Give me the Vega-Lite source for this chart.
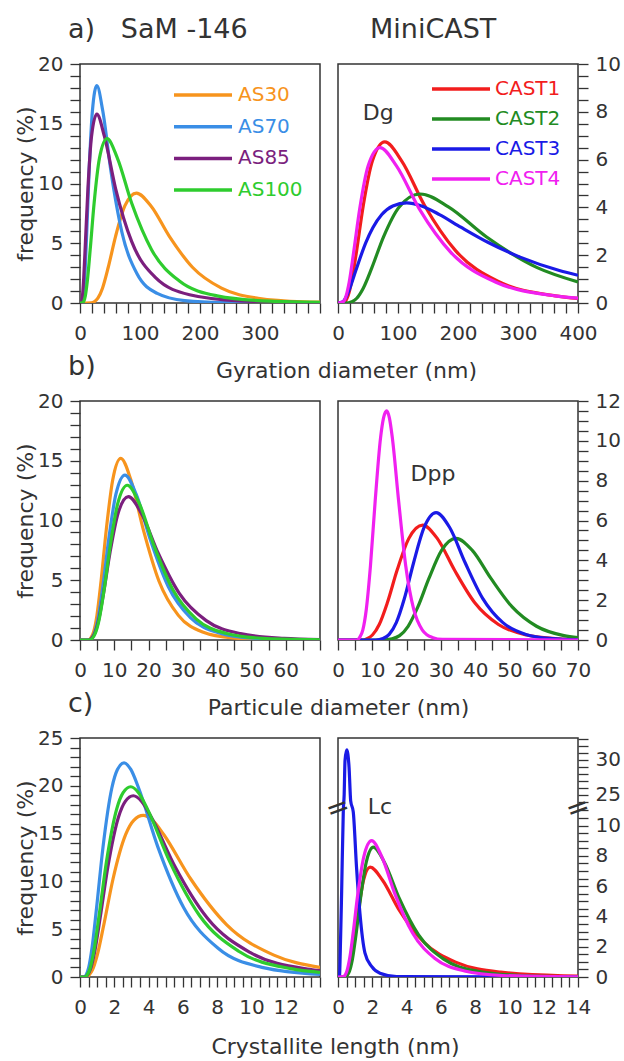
{
"$schema":"https://vega.github.io/schema/vega-lite/v6.json",
"background":"white",
"padding":{"left":13,"top":15,"right":0,"bottom":0},
"config":{
 "font":"DejaVu Sans",
 "view":{"stroke":"#333","strokeWidth":1.5},
 "axis":{"labelFont":"DejaVu Sans","labelFontSize":20,"labelColor":"#333","titleFont":"DejaVu Sans","titleFontSize":22,"titleFontWeight":"normal","titleColor":"#333","tickColor":"#333","tickWidth":1.3,"tickSize":10,"domain":false,"grid":false,"labelOverlap":false,"labelFlush":false,"labelBound":false,"format":"d"},
 "axisX":{"labelPadding":10},
 "axisY":{"labelPadding":7,"titlePadding":0},
 "title":{"font":"DejaVu Sans","fontSize":27,"fontWeight":"normal","color":"#333","anchor":"start","frame":"group","baseline":"alphabetic","offset":10},
 "legend":{"labelFont":"DejaVu Sans","labelFontSize":20,"title":null}
},
"datasets":{
"a1":[
{"s":"AS30","x":0,"y":0},{"s":"AS30","x":18.8,"y":0.02},{"s":"AS30","x":23.6,"y":0.1},{"s":"AS30","x":29.8,"y":0.4},{"s":"AS30","x":37.5,"y":1.24},{"s":"AS30","x":47.1,"y":2.99},{"s":"AS30","x":59.3,"y":5.58},{"s":"AS30","x":74.7,"y":8.12},{"s":"AS30","x":94,"y":9.2},{"s":"AS30","x":118.3,"y":8.12},{"s":"AS30","x":148.9,"y":5.58},{"s":"AS30","x":187.4,"y":2.99},{"s":"AS30","x":235.8,"y":1.24},{"s":"AS30","x":296.9,"y":0.4},{"s":"AS30","x":373.7,"y":0.1},{"s":"AS30","x":400,"y":0.07},
{"s":"AS70","x":0,"y":0},{"s":"AS70","x":3.31,"y":0.04},{"s":"AS70","x":4.49,"y":0.2},{"s":"AS70","x":6.09,"y":0.8},{"s":"AS70","x":8.27,"y":2.46},{"s":"AS70","x":11.21,"y":5.91},{"s":"AS70","x":15.21,"y":11.04},{"s":"AS70","x":20.64,"y":16.06},{"s":"AS70","x":28,"y":18.2},{"s":"AS70","x":37.98,"y":16.06},{"s":"AS70","x":51.53,"y":11.04},{"s":"AS70","x":69.9,"y":5.91},{"s":"AS70","x":94.8,"y":2.46},{"s":"AS70","x":128.7,"y":0.8},{"s":"AS70","x":174.5,"y":0.2},{"s":"AS70","x":236.8,"y":0.04},{"s":"AS70","x":400,"y":0},
{"s":"AS85","x":0,"y":0},{"s":"AS85","x":2.03,"y":0.03},{"s":"AS85","x":2.95,"y":0.18},{"s":"AS85","x":4.29,"y":0.69},{"s":"AS85","x":6.25,"y":2.14},{"s":"AS85","x":9.09,"y":5.13},{"s":"AS85","x":13.23,"y":9.58},{"s":"AS85","x":19.24,"y":13.94},{"s":"AS85","x":28,"y":15.8},{"s":"AS85","x":40.7,"y":13.94},{"s":"AS85","x":59.3,"y":9.58},{"s":"AS85","x":86.2,"y":5.13},{"s":"AS85","x":125.5,"y":2.14},{"s":"AS85","x":182.6,"y":0.69},{"s":"AS85","x":265.7,"y":0.18},{"s":"AS85","x":386,"y":0.03},{"s":"AS85","x":400,"y":0.02},
{"s":"AS100","x":0,"y":0},{"s":"AS100","x":4.63,"y":0.03},{"s":"AS100","x":6.4,"y":0.15},{"s":"AS100","x":8.86,"y":0.6},{"s":"AS100","x":12.26,"y":1.86},{"s":"AS100","x":16.97,"y":4.46},{"s":"AS100","x":23.49,"y":8.34},{"s":"AS100","x":32.5,"y":12.13},{"s":"AS100","x":45,"y":13.75},{"s":"AS100","x":62.3,"y":12.13},{"s":"AS100","x":86.2,"y":8.34},{"s":"AS100","x":119.3,"y":4.46},{"s":"AS100","x":165.1,"y":1.86},{"s":"AS100","x":228.5,"y":0.6},{"s":"AS100","x":316.3,"y":0.15},{"s":"AS100","x":400,"y":0.05}
],
"a2":[
{"s":"CAST1","x":0,"y":0},{"s":"CAST1","x":9.09,"y":0.015},{"s":"CAST1","x":12.36,"y":0.075},{"s":"CAST1","x":16.8,"y":0.3},{"s":"CAST1","x":22.84,"y":0.91},{"s":"CAST1","x":31.05,"y":2.19},{"s":"CAST1","x":42.2,"y":4.09},{"s":"CAST1","x":57.4,"y":5.95},{"s":"CAST1","x":78,"y":6.74},{"s":"CAST1","x":106,"y":5.95},{"s":"CAST1","x":144.1,"y":4.09},{"s":"CAST1","x":195.9,"y":2.19},{"s":"CAST1","x":266.4,"y":0.91},{"s":"CAST1","x":362.1,"y":0.3},{"s":"CAST1","x":400,"y":0.19},
{"s":"CAST2","x":0,"y":0},{"s":"CAST2","x":17.4,"y":0.01},{"s":"CAST2","x":23.3,"y":0.05},{"s":"CAST2","x":31.3,"y":0.2},{"s":"CAST2","x":42.1,"y":0.62},{"s":"CAST2","x":56.5,"y":1.48},{"s":"CAST2","x":75.9,"y":2.77},{"s":"CAST2","x":102,"y":4.02},{"s":"CAST2","x":137,"y":4.56},{"s":"CAST2","x":184,"y":4.02},{"s":"CAST2","x":247.1,"y":2.77},{"s":"CAST2","x":332,"y":1.48},{"s":"CAST2","x":400,"y":0.88},
{"s":"CAST3","x":0,"y":0},{"s":"CAST3","x":7.69,"y":0.047},{"s":"CAST3","x":12.07,"y":0.184},{"s":"CAST3","x":18.93,"y":0.567},{"s":"CAST3","x":29.69,"y":1.36},{"s":"CAST3","x":46.55,"y":2.54},{"s":"CAST3","x":58.3,"y":3.16},{"s":"CAST3","x":73,"y":3.7},{"s":"CAST3","x":91.4,"y":4.06},{"s":"CAST3","x":114.5,"y":4.19},{"s":"CAST3","x":139.2,"y":4.06},{"s":"CAST3","x":169.1,"y":3.7},{"s":"CAST3","x":205.5,"y":3.16},{"s":"CAST3","x":249.7,"y":2.54},{"s":"CAST3","x":303.6,"y":1.92},{"s":"CAST3","x":368.9,"y":1.36},{"s":"CAST3","x":400,"y":1.16},
{"s":"CAST4","x":0,"y":0},{"s":"CAST4","x":9.66,"y":0.07},{"s":"CAST4","x":13.44,"y":0.29},{"s":"CAST4","x":18.69,"y":0.88},{"s":"CAST4","x":26,"y":2.11},{"s":"CAST4","x":36.2,"y":3.94},{"s":"CAST4","x":50.3,"y":5.74},{"s":"CAST4","x":70,"y":6.5},{"s":"CAST4","x":97.4,"y":5.74},{"s":"CAST4","x":135.5,"y":3.94},{"s":"CAST4","x":188.4,"y":2.11},{"s":"CAST4","x":262.2,"y":0.88},{"s":"CAST4","x":364.7,"y":0.29},{"s":"CAST4","x":400,"y":0.2}
],
"b1":[
{"s":"AS30","x":0,"y":0},{"s":"AS30","x":2.5,"y":0},{"s":"AS30","x":3.18,"y":0.17},{"s":"AS30","x":3.96,"y":0.67},{"s":"AS30","x":4.94,"y":2.06},{"s":"AS30","x":6.15,"y":4.94},{"s":"AS30","x":7.66,"y":9.22},{"s":"AS30","x":9.55,"y":13.41},{"s":"AS30","x":11.9,"y":15.2},{"s":"AS30","x":14.83,"y":13.41},{"s":"AS30","x":18.48,"y":9.22},{"s":"AS30","x":23.02,"y":4.94},{"s":"AS30","x":28.69,"y":2.06},{"s":"AS30","x":35.75,"y":0.67},{"s":"AS30","x":44.55,"y":0.17},{"s":"AS30","x":55.5,"y":0.03},{"s":"AS30","x":70,"y":0},
{"s":"AS70","x":0,"y":0},{"s":"AS70","x":2.5,"y":0},{"s":"AS70","x":3.4,"y":0.15},{"s":"AS70","x":4.25,"y":0.61},{"s":"AS70","x":5.33,"y":1.87},{"s":"AS70","x":6.67,"y":4.48},{"s":"AS70","x":8.35,"y":8.37},{"s":"AS70","x":10.46,"y":12.18},{"s":"AS70","x":13.1,"y":13.8},{"s":"AS70","x":16.4,"y":12.18},{"s":"AS70","x":20.54,"y":8.37},{"s":"AS70","x":25.73,"y":4.48},{"s":"AS70","x":32.2,"y":1.87},{"s":"AS70","x":40.35,"y":0.61},{"s":"AS70","x":50.5,"y":0.15},{"s":"AS70","x":63.3,"y":0.03},{"s":"AS70","x":70,"y":0.01},
{"s":"AS85","x":0,"y":0},{"s":"AS85","x":2.5,"y":0},{"s":"AS85","x":3.34,"y":0.13},{"s":"AS85","x":4.25,"y":0.53},{"s":"AS85","x":5.4,"y":1.62},{"s":"AS85","x":6.86,"y":3.9},{"s":"AS85","x":8.73,"y":7.28},{"s":"AS85","x":11.09,"y":10.59},{"s":"AS85","x":14.1,"y":12},{"s":"AS85","x":17.92,"y":10.59},{"s":"AS85","x":22.79,"y":7.28},{"s":"AS85","x":28.96,"y":3.9},{"s":"AS85","x":36.82,"y":1.62},{"s":"AS85","x":46.8,"y":0.53},{"s":"AS85","x":59.5,"y":0.13},{"s":"AS85","x":70,"y":0.03},
{"s":"AS100","x":0,"y":0},{"s":"AS100","x":2.5,"y":0},{"s":"AS100","x":3.58,"y":0.14},{"s":"AS100","x":4.48,"y":0.57},{"s":"AS100","x":5.61,"y":1.75},{"s":"AS100","x":7.03,"y":4.2},{"s":"AS100","x":8.8,"y":7.85},{"s":"AS100","x":11.02,"y":11.43},{"s":"AS100","x":13.8,"y":12.95},{"s":"AS100","x":17.28,"y":11.43},{"s":"AS100","x":21.64,"y":7.85},{"s":"AS100","x":27.1,"y":4.2},{"s":"AS100","x":33.93,"y":1.75},{"s":"AS100","x":42.5,"y":0.57},{"s":"AS100","x":53.2,"y":0.14},{"s":"AS100","x":66.7,"y":0.03},{"s":"AS100","x":70,"y":0.02}
],
"b2":[
{"s":"CAST1","x":0,"y":0},{"s":"CAST1","x":7.5,"y":0},{"s":"CAST1","x":8.39,"y":0.06},{"s":"CAST1","x":10.04,"y":0.25},{"s":"CAST1","x":12.03,"y":0.78},{"s":"CAST1","x":14.39,"y":1.87},{"s":"CAST1","x":17.23,"y":3.5},{"s":"CAST1","x":20.63,"y":5.09},{"s":"CAST1","x":24.7,"y":5.77},{"s":"CAST1","x":28.99,"y":5.09},{"s":"CAST1","x":34.01,"y":3.5},{"s":"CAST1","x":39.9,"y":1.87},{"s":"CAST1","x":46.8,"y":0.78},{"s":"CAST1","x":55,"y":0.25},{"s":"CAST1","x":64.5,"y":0.06},{"s":"CAST1","x":70,"y":0.02},
{"s":"CAST2","x":0,"y":0},{"s":"CAST2","x":13,"y":0},{"s":"CAST2","x":15.77,"y":0.06},{"s":"CAST2","x":17.96,"y":0.22},{"s":"CAST2","x":20.45,"y":0.69},{"s":"CAST2","x":23.29,"y":1.66},{"s":"CAST2","x":26.52,"y":3.09},{"s":"CAST2","x":30.21,"y":4.5},{"s":"CAST2","x":34.4,"y":5.1},{"s":"CAST2","x":39.17,"y":4.5},{"s":"CAST2","x":44.61,"y":3.09},{"s":"CAST2","x":50.8,"y":1.66},{"s":"CAST2","x":57.9,"y":0.69},{"s":"CAST2","x":65.9,"y":0.22},{"s":"CAST2","x":70,"y":0.12},
{"s":"CAST3","x":0,"y":0},{"s":"CAST3","x":11,"y":0},{"s":"CAST3","x":13.11,"y":0.07},{"s":"CAST3","x":14.93,"y":0.28},{"s":"CAST3","x":17,"y":0.87},{"s":"CAST3","x":19.36,"y":2.08},{"s":"CAST3","x":22.05,"y":3.88},{"s":"CAST3","x":25.11,"y":5.65},{"s":"CAST3","x":28.6,"y":6.4},{"s":"CAST3","x":32.57,"y":5.65},{"s":"CAST3","x":37.09,"y":3.88},{"s":"CAST3","x":42.24,"y":2.08},{"s":"CAST3","x":48.1,"y":0.87},{"s":"CAST3","x":54.8,"y":0.28},{"s":"CAST3","x":62.4,"y":0.07},{"s":"CAST3","x":70,"y":0.01},
{"s":"CAST4","x":0,"y":0},{"s":"CAST4","x":5.5,"y":0},{"s":"CAST4","x":6.32,"y":0.13},{"s":"CAST4","x":7.23,"y":0.5},{"s":"CAST4","x":8.27,"y":1.56},{"s":"CAST4","x":9.47,"y":3.73},{"s":"CAST4","x":10.84,"y":6.97},{"s":"CAST4","x":12.41,"y":10.15},{"s":"CAST4","x":13.27,"y":11.14},{"s":"CAST4","x":14.2,"y":11.5},{"s":"CAST4","x":15,"y":11.14},{"s":"CAST4","x":15.85,"y":10.15},{"s":"CAST4","x":17.69,"y":6.97},{"s":"CAST4","x":19.75,"y":3.73},{"s":"CAST4","x":22.05,"y":1.56},{"s":"CAST4","x":24.61,"y":0.5},{"s":"CAST4","x":27.48,"y":0.13},{"s":"CAST4","x":30.5,"y":0.03},{"s":"CAST4","x":70,"y":0}
],
"c1":[
{"s":"AS30","x":0,"y":0},{"s":"AS30","x":0.4,"y":0},{"s":"AS30","x":0.525,"y":0.19},{"s":"AS30","x":0.727,"y":0.74},{"s":"AS30","x":1.006,"y":2.29},{"s":"AS30","x":1.392,"y":5.49},{"s":"AS30","x":1.926,"y":10.25},{"s":"AS30","x":2.666,"y":14.91},{"s":"AS30","x":3.136,"y":16.38},{"s":"AS30","x":3.69,"y":16.9},{"s":"AS30","x":4.245,"y":16.38},{"s":"AS30","x":4.882,"y":14.91},{"s":"AS30","x":6.46,"y":10.25},{"s":"AS30","x":8.547,"y":5.49},{"s":"AS30","x":11.31,"y":2.29},{"s":"AS30","x":14,"y":1},
{"s":"AS70","x":0,"y":0},{"s":"AS70","x":0.25,"y":0},{"s":"AS70","x":0.366,"y":0.25},{"s":"AS70","x":0.506,"y":0.98},{"s":"AS70","x":0.7,"y":3.03},{"s":"AS70","x":0.969,"y":7.27},{"s":"AS70","x":1.342,"y":13.59},{"s":"AS70","x":1.857,"y":19.77},{"s":"AS70","x":2.184,"y":21.71},{"s":"AS70","x":2.57,"y":22.4},{"s":"AS70","x":2.964,"y":21.71},{"s":"AS70","x":3.418,"y":19.77},{"s":"AS70","x":4.545,"y":13.59},{"s":"AS70","x":6.043,"y":7.27},{"s":"AS70","x":8.036,"y":3.03},{"s":"AS70","x":10.69,"y":0.98},{"s":"AS70","x":14,"y":0.27},
{"s":"AS85","x":0,"y":0},{"s":"AS85","x":0.3,"y":0},{"s":"AS85","x":0.442,"y":0.21},{"s":"AS85","x":0.612,"y":0.83},{"s":"AS85","x":0.848,"y":2.57},{"s":"AS85","x":1.173,"y":6.16},{"s":"AS85","x":1.624,"y":11.5},{"s":"AS85","x":2.247,"y":16.73},{"s":"AS85","x":2.643,"y":18.37},{"s":"AS85","x":3.11,"y":18.96},{"s":"AS85","x":3.595,"y":18.37},{"s":"AS85","x":4.156,"y":16.73},{"s":"AS85","x":5.555,"y":11.5},{"s":"AS85","x":7.424,"y":6.16},{"s":"AS85","x":9.92,"y":2.57},{"s":"AS85","x":13.26,"y":0.83},{"s":"AS85","x":14,"y":0.66},
{"s":"AS100","x":0,"y":0},{"s":"AS100","x":0.3,"y":0},{"s":"AS100","x":0.421,"y":0.22},{"s":"AS100","x":0.583,"y":0.87},{"s":"AS100","x":0.807,"y":2.69},{"s":"AS100","x":1.117,"y":6.46},{"s":"AS100","x":1.545,"y":12.07},{"s":"AS100","x":2.139,"y":17.56},{"s":"AS100","x":2.516,"y":19.28},{"s":"AS100","x":2.96,"y":19.9},{"s":"AS100","x":3.414,"y":19.28},{"s":"AS100","x":3.936,"y":17.56},{"s":"AS100","x":5.234,"y":12.07},{"s":"AS100","x":6.96,"y":6.46},{"s":"AS100","x":9.256,"y":2.69},{"s":"AS100","x":12.31,"y":0.87},{"s":"AS100","x":14,"y":0.48}
],
"c2":[
{"s":"CAST1","x":0,"y":0},{"s":"CAST1","x":0.4,"y":0},{"s":"CAST1","x":0.485,"y":0.08},{"s":"CAST1","x":0.607,"y":0.32},{"s":"CAST1","x":0.76,"y":0.98},{"s":"CAST1","x":0.952,"y":2.36},{"s":"CAST1","x":1.193,"y":4.4},{"s":"CAST1","x":1.493,"y":6.41},{"s":"CAST1","x":1.87,"y":7.26},{"s":"CAST1","x":2.588,"y":6.41},{"s":"CAST1","x":3.582,"y":4.4},{"s":"CAST1","x":4.957,"y":2.36},{"s":"CAST1","x":6.861,"y":0.98},{"s":"CAST1","x":9.5,"y":0.32},{"s":"CAST1","x":13.14,"y":0.08},{"s":"CAST1","x":14,"y":0.06},
{"s":"CAST2","x":0,"y":0},{"s":"CAST2","x":0.45,"y":0},{"s":"CAST2","x":0.534,"y":0.1},{"s":"CAST2","x":0.669,"y":0.38},{"s":"CAST2","x":0.838,"y":1.16},{"s":"CAST2","x":1.049,"y":2.78},{"s":"CAST2","x":1.314,"y":5.2},{"s":"CAST2","x":1.645,"y":7.56},{"s":"CAST2","x":2.06,"y":8.57},{"s":"CAST2","x":2.712,"y":7.56},{"s":"CAST2","x":3.57,"y":5.2},{"s":"CAST2","x":4.7,"y":2.78},{"s":"CAST2","x":6.19,"y":1.16},{"s":"CAST2","x":8.15,"y":0.38},{"s":"CAST2","x":10.73,"y":0.1},{"s":"CAST2","x":14,"y":0.02},
{"s":"CAST3","x":0,"y":0},{"s":"CAST3","x":0.08,"y":0},{"s":"CAST3","x":0.15,"y":2.5},{"s":"CAST3","x":0.21,"y":5.5},{"s":"CAST3","x":0.31,"y":11},{"s":"CAST3","x":0.36,"y":25},{"s":"CAST3","x":0.41,"y":29.9},{"s":"CAST3","x":0.51,"y":31.4},{"s":"CAST3","x":0.645,"y":28.9},{"s":"CAST3","x":0.74,"y":24.1},{"s":"CAST3","x":0.89,"y":10.9},{"s":"CAST3","x":1.08,"y":7.26},{"s":"CAST3","x":1.28,"y":4.2},{"s":"CAST3","x":1.57,"y":1.6},{"s":"CAST3","x":1.96,"y":0.7},{"s":"CAST3","x":2.45,"y":0.25},{"s":"CAST3","x":3.42,"y":0.03},{"s":"CAST3","x":14,"y":0},
{"s":"CAST4","x":0,"y":0},{"s":"CAST4","x":0.3,"y":0.02},{"s":"CAST4","x":0.4,"y":0.1},{"s":"CAST4","x":0.521,"y":0.4},{"s":"CAST4","x":0.679,"y":1.22},{"s":"CAST4","x":0.885,"y":2.92},{"s":"CAST4","x":1.154,"y":5.46},{"s":"CAST4","x":1.504,"y":7.94},{"s":"CAST4","x":1.96,"y":9},{"s":"CAST4","x":2.555,"y":7.94},{"s":"CAST4","x":3.33,"y":5.46},{"s":"CAST4","x":4.34,"y":2.92},{"s":"CAST4","x":5.657,"y":1.22},{"s":"CAST4","x":7.374,"y":0.4},{"s":"CAST4","x":9.61,"y":0.1},{"s":"CAST4","x":12.52,"y":0.02},{"s":"CAST4","x":14,"y":0.01}
]
},
"columns":2,
"spacing":{"row":98,"column":18},
"bounds":"flush",
"resolve":{"scale":{"x":"independent","y":"independent","color":"independent"},"legend":{"color":"independent"}},
"concat":[
{
 "width":240,"height":239,
 "title":{"text":"a)\u00a0\u00a0\u00a0SaM -146","dx":-12},
 "data":{"name":"a1"},
 "mark":{"type":"line","interpolate":"monotone","strokeWidth":3.2,"clip":true},
 "encoding":{
  "x":{"field":"x","type":"quantitative","scale":{"domain":[0,400],"nice":false,"zero":false},
   "axis":{"values":[0,20,40,60,80,100,120,140,160,180,200,220,240,260,280,300,320,340,360,380,400],"labelExpr":"datum.value % 100 === 0 && datum.value < 400 ? datum.label : ''","title":"Gyration diameter (nm)","titleX":266,"titleY":74,"titleBaseline":"alphabetic","encode":{"ticks":{"update":{"y2":{"signal":"datum.value % 100 === 0 ? 10 : 5"}}}}}},
  "y":{"field":"y","type":"quantitative","scale":{"domain":[0,20],"nice":false},
   "axis":{"values":[0,1,2,3,4,5,6,7,8,9,10,11,12,13,14,15,16,17,18,19,20],"labelExpr":"datum.value % 5 === 0 ? datum.label : ''","title":"frequency (%)","encode":{"ticks":{"update":{"x2":{"signal":"datum.value % 5 === 0 ? -10 : -5"}}}}}},
  "color":{"field":"s","type":"nominal","scale":{"domain":["AS30","AS70","AS85","AS100"],"range":["#f7941d","#3a8ee6","#7b1f7e","#2ecc2e"]},
   "legend":{"orient":"none","legendX":113,"legendY":21,"symbolType":"M-5.8,0H5.8","symbolSize":100,"symbolStrokeWidth":3.5,"labelOffset":25,"rowPadding":11.7,"padding":0,"labelBaseline":"middle",
    "encode":{"labels":{"update":{"fill":{"signal":"datum.label === 'AS30' ? '#f7941d' : datum.label === 'AS70' ? '#3a8ee6' : datum.label === 'AS85' ? '#7b1f7e' : '#2ecc2e'"}}}}}}
 }
},
{
 "width":240,"height":239,
 "title":{"text":"MiniCAST","dx":32},
 "encoding":{
  "x":{"field":"x","type":"quantitative","scale":{"domain":[0,400],"nice":false,"zero":false},
   "axis":{"values":[0,20,40,60,80,100,120,140,160,180,200,220,240,260,280,300,320,340,360,380,400],"labelExpr":"datum.value % 100 === 0 ? datum.label : ''","title":null,"encode":{"ticks":{"update":{"y2":{"signal":"datum.value % 100 === 0 ? 10 : 5"}}}}}},
  "y":{"field":"y","type":"quantitative","scale":{"domain":[0,10],"nice":false},
   "axis":{"orient":"right","values":[0,0.5,1,1.5,2,2.5,3,3.5,4,4.5,5,5.5,6,6.5,7,7.5,8,8.5,9,9.5,10],"labelExpr":"datum.value % 2 === 0 ? datum.label : ''","title":null,"encode":{"ticks":{"update":{"x2":{"signal":"datum.value % 2 === 0 ? 10 : 5"}}}}}}
 },
 "layer":[
  {"data":{"name":"a2"},
   "mark":{"type":"line","interpolate":"monotone","strokeWidth":3.2,"clip":true},
   "encoding":{"color":{"field":"s","type":"nominal","scale":{"domain":["CAST1","CAST2","CAST3","CAST4"],"range":["#f21d1d","#228b22","#1a1ae6","#f020f0"]},
    "legend":{"orient":"none","legendX":113,"legendY":15,"symbolType":"M-5.8,0H5.8","symbolSize":100,"symbolStrokeWidth":3.5,"labelOffset":24,"rowPadding":10,"padding":0,"labelBaseline":"middle",
     "encode":{"labels":{"update":{"fill":{"signal":"datum.label === 'CAST1' ? '#f21d1d' : datum.label === 'CAST2' ? '#228b22' : datum.label === 'CAST3' ? '#1a1ae6' : '#f020f0'"}}}}}}}},
  {"data":{"values":[{"x":67,"y":7.94,"t":"Dg"}]},
   "mark":{"type":"text","font":"DejaVu Sans","fontSize":22,"color":"#333","baseline":"middle","align":"center"},
   "encoding":{"text":{"field":"t","type":"nominal"}}}
 ]
},
{
 "width":240,"height":239,
 "title":{"text":"b)","dx":-12},
 "data":{"name":"b1"},
 "mark":{"type":"line","interpolate":"monotone","strokeWidth":3.2,"clip":true},
 "encoding":{
  "x":{"field":"x","type":"quantitative","scale":{"domain":[0,70],"nice":false,"zero":false},
   "axis":{"values":[0,5,10,15,20,25,30,35,40,45,50,55,60,65,70],"labelExpr":"datum.value % 10 === 0 && datum.value < 70 ? datum.label : ''","title":"Particule diameter (nm)","titleX":258,"titleY":74,"titleBaseline":"alphabetic","encode":{"ticks":{"update":{"y2":{"signal":"datum.value % 10 === 0 ? 10 : 5"}}}}}},
  "y":{"field":"y","type":"quantitative","scale":{"domain":[0,20],"nice":false},
   "axis":{"values":[0,1,2,3,4,5,6,7,8,9,10,11,12,13,14,15,16,17,18,19,20],"labelExpr":"datum.value % 5 === 0 ? datum.label : ''","title":"frequency (%)","encode":{"ticks":{"update":{"x2":{"signal":"datum.value % 5 === 0 ? -10 : -5"}}}}}},
  "color":{"field":"s","type":"nominal","scale":{"domain":["AS30","AS70","AS85","AS100"],"range":["#f7941d","#3a8ee6","#7b1f7e","#2ecc2e"]},"legend":null}
 }
},
{
 "width":240,"height":239,
 "encoding":{
  "x":{"field":"x","type":"quantitative","scale":{"domain":[0,70],"nice":false,"zero":false},
   "axis":{"values":[0,5,10,15,20,25,30,35,40,45,50,55,60,65,70],"labelExpr":"datum.value % 10 === 0 ? datum.label : ''","title":null,"encode":{"ticks":{"update":{"y2":{"signal":"datum.value % 10 === 0 ? 10 : 5"}}}}}},
  "y":{"field":"y","type":"quantitative","scale":{"domain":[0,12],"nice":false},
   "axis":{"orient":"right","values":[0,0.5,1,1.5,2,2.5,3,3.5,4,4.5,5,5.5,6,6.5,7,7.5,8,8.5,9,9.5,10,10.5,11,11.5,12],"labelExpr":"datum.value % 2 === 0 ? datum.label : ''","title":null,"encode":{"ticks":{"update":{"x2":{"signal":"datum.value % 2 === 0 ? 10 : 5"}}}}}}
 },
 "layer":[
  {"data":{"name":"b2"},
   "mark":{"type":"line","interpolate":"monotone","strokeWidth":3.2,"clip":true},
   "encoding":{"color":{"field":"s","type":"nominal","scale":{"domain":["CAST1","CAST2","CAST3","CAST4"],"range":["#f21d1d","#228b22","#1a1ae6","#f020f0"]},"legend":null}}},
  {"data":{"values":[{"x":27.7,"y":8.35,"t":"Dpp"}]},
   "mark":{"type":"text","font":"DejaVu Sans","fontSize":22,"color":"#333","baseline":"middle","align":"center"},
   "encoding":{"text":{"field":"t","type":"nominal"}}}
 ]
},
{
 "width":240,"height":239,
 "title":{"text":"c)","dx":-12},
 "data":{"name":"c1"},
 "mark":{"type":"line","interpolate":"monotone","strokeWidth":3.2,"clip":true},
 "encoding":{
  "x":{"field":"x","type":"quantitative","scale":{"domain":[0,14],"nice":false,"zero":false},
   "axis":{"values":[0,0.5,1,1.5,2,2.5,3,3.5,4,4.5,5,5.5,6,6.5,7,7.5,8,8.5,9,9.5,10,10.5,11,11.5,12,12.5,13,13.5,14],"labelExpr":"datum.value % 2 === 0 && datum.value < 14 ? datum.label : ''","title":"Crystallite length (nm)","titleX":255,"titleY":76,"titleBaseline":"alphabetic","encode":{"ticks":{"update":{"y2":{"signal":"datum.value % 2 === 0 ? 10 : 5"}}}}}},
  "y":{"field":"y","type":"quantitative","scale":{"domain":[0,25],"nice":false},
   "axis":{"values":[0,1,2,3,4,5,6,7,8,9,10,11,12,13,14,15,16,17,18,19,20,21,22,23,24,25],"labelExpr":"datum.value % 5 === 0 ? datum.label : ''","title":"frequency (%)","encode":{"ticks":{"update":{"x2":{"signal":"datum.value % 5 === 0 ? -10 : -5"}}}}}},
  "color":{"field":"s","type":"nominal","scale":{"domain":["AS30","AS70","AS85","AS100"],"range":["#f7941d","#3a8ee6","#7b1f7e","#2ecc2e"]},"legend":null}
 }
},
{
 "width":240,"height":239,
 "encoding":{
  "x":{"field":"x","type":"quantitative","scale":{"domain":[0,14],"nice":false,"zero":false},
   "axis":{"values":[0,0.5,1,1.5,2,2.5,3,3.5,4,4.5,5,5.5,6,6.5,7,7.5,8,8.5,9,9.5,10,10.5,11,11.5,12,12.5,13,13.5,14],"labelExpr":"datum.value % 2 === 0 ? datum.label : ''","title":null,"encode":{"ticks":{"update":{"y2":{"signal":"datum.value % 2 === 0 ? 10 : 5"}}}}}},
  "y":{"field":"y","type":"quantitative","scale":{"domain":[0,11.12,23,33.1],"range":[239,70.6,70.6,0],"nice":false,"zero":false},
   "axis":{"orient":"right","values":[0,0.5,1,1.5,2,2.5,3,3.5,4,4.5,5,5.5,6,6.5,7,7.5,8,8.5,9,9.5,10,10.5,11,24,25,26,27,28,29,30,31,32,33],"labelExpr":"indexof([0,2,4,6,8,10,25,30], datum.value) >= 0 ? datum.label : ''","title":null,"encode":{"ticks":{"update":{"x2":{"signal":"indexof([0,2,4,6,8,10,25,30], datum.value) >= 0 ? 10 : 5"}}}}}}
 },
 "layer":[
  {"data":{"name":"c2"},
   "mark":{"type":"line","interpolate":"monotone","strokeWidth":3.2,"clip":true},
   "encoding":{"color":{"field":"s","type":"nominal","scale":{"domain":["CAST1","CAST2","CAST3","CAST4"],"range":["#f21d1d","#228b22","#1a1ae6","#f020f0"]},"legend":null}}},
  {"data":{"values":[{"x":2.45,"y":23.2,"t":"Lc"}]},
   "mark":{"type":"text","font":"DejaVu Sans","fontSize":22,"color":"#333","baseline":"middle","align":"center"},
   "encoding":{"text":{"field":"t","type":"nominal"}}},
  {"data":{"values":[{"x":0,"y":17,"t":"="},{"x":14,"y":17,"t":"="}]},
   "mark":{"type":"text","font":"DejaVu Sans","fontSize":28,"color":"#333","baseline":"middle","align":"center","angle":-20},
   "encoding":{"text":{"field":"t","type":"nominal"}}}
 ]
}
]
}
